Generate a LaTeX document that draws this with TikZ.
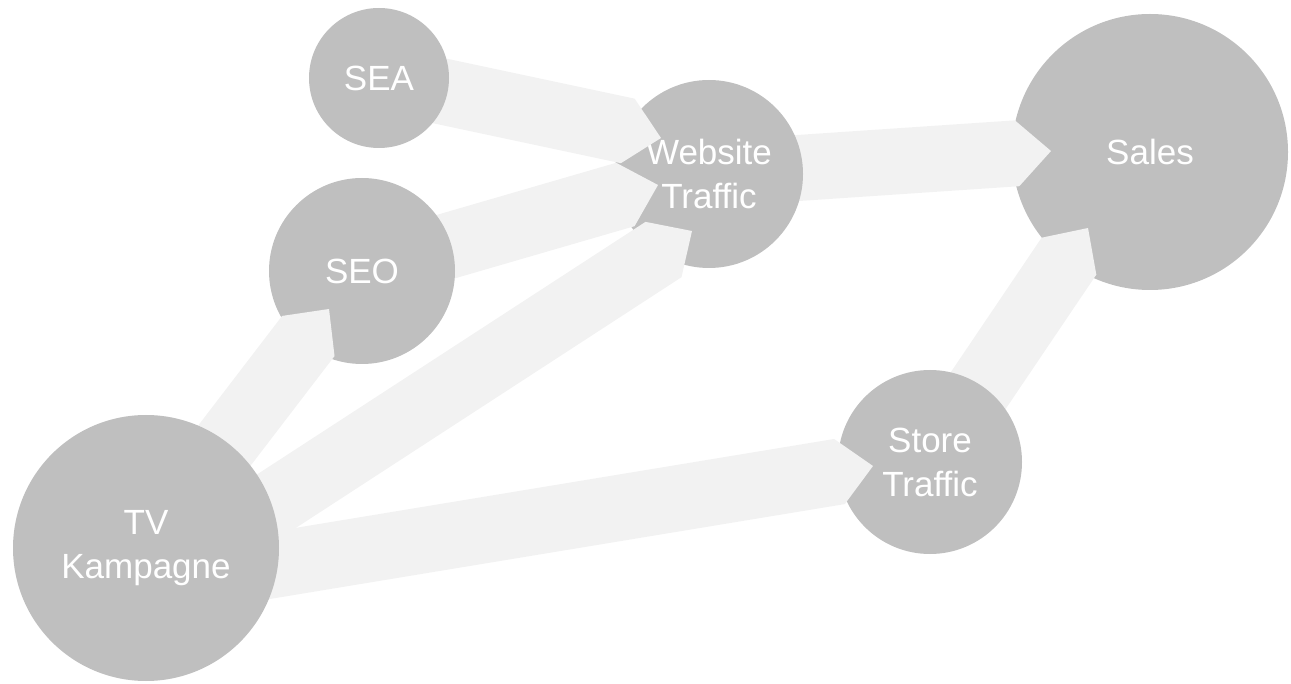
\documentclass[tikz,border=0pt]{standalone}
\usepackage{fontspec}
\setmainfont{Liberation Sans}
\usetikzlibrary{calc}

\definecolor{hubgray}{RGB}{191,191,191}
\definecolor{flowgray}{RGB}{242,242,242}

\tikzset{
  hub/.style={circle, fill=hubgray, text=white, inner sep=0pt, align=center,
    font=\fontsize{35}{44}\selectfont},
  flow/.style={fill=flowgray}
}

% broad band with a pointed head: #1 tail, #2 tip
\newcommand\flowarrow[2]{%
  \path ($(#2)!34pt!(#1)$) coordinate (fa-neck);
  \fill[flow] ($(#1)!33pt!90:(#2)$) -- ($(fa-neck)!33pt!90:(#2)$) -- (#2)
    -- ($(fa-neck)!33pt!-90:(#2)$) -- ($(#1)!33pt!-90:(#2)$) -- cycle;
}

\begin{document}
\begin{tikzpicture}[x=1pt,y=1pt,yscale=-1]
\useasboundingbox (0,0) rectangle (1291,684);

% centres of the circles
\coordinate (c-sea) at (379,78);
\coordinate (c-seo) at (362,271);
\coordinate (c-tv) at (146,548);
\coordinate (c-web) at (709,174);
\coordinate (c-store) at (930,462);
\coordinate (c-sales) at (1150,152);

% where the bands leave and where their heads end
\coordinate (tv-low) at ($(c-tv)+(0,38)$);
\coordinate (sea2web) at ($(c-web)+(-48,-36)$);
\coordinate (seo2web) at ($(c-web)+(-51,11)$);
\coordinate (tv2web) at ($(c-web)+(-17,57)$);
\coordinate (tv2seo) at ($(c-seo)+(-33,38)$);
\coordinate (tv2store) at ($(c-store)+(-57,4)$);
\coordinate (web2sales) at ($(c-sales)+(-99,-1)$);
\coordinate (store2sales) at ($(c-sales)+(-62,76)$);

% Sales and what feeds it
\node[hub, minimum size=276pt] (sales) at (c-sales) {Sales};
\flowarrow{c-web}{web2sales}
\flowarrow{c-store}{store2sales}

% Website / Store Traffic
\node[hub, minimum size=188pt] (web) at (c-web) {Website\\Traffic};
\node[hub, minimum size=184pt] (store) at (c-store) {Store\\Traffic};
\flowarrow{c-sea}{sea2web}
\flowarrow{c-seo}{seo2web}
\flowarrow{tv-low}{tv2web}
\flowarrow{tv-low}{tv2store}

% SEA, SEO
\node[hub, minimum size=140pt] (sea) at (c-sea) {SEA};
\node[hub, minimum size=186pt] (seo) at (c-seo) {SEO};
\flowarrow{c-tv}{tv2seo}

% TV
\node[hub, minimum size=266pt] (tv) at (c-tv) {TV\\Kampagne};

\end{tikzpicture}
\end{document}
